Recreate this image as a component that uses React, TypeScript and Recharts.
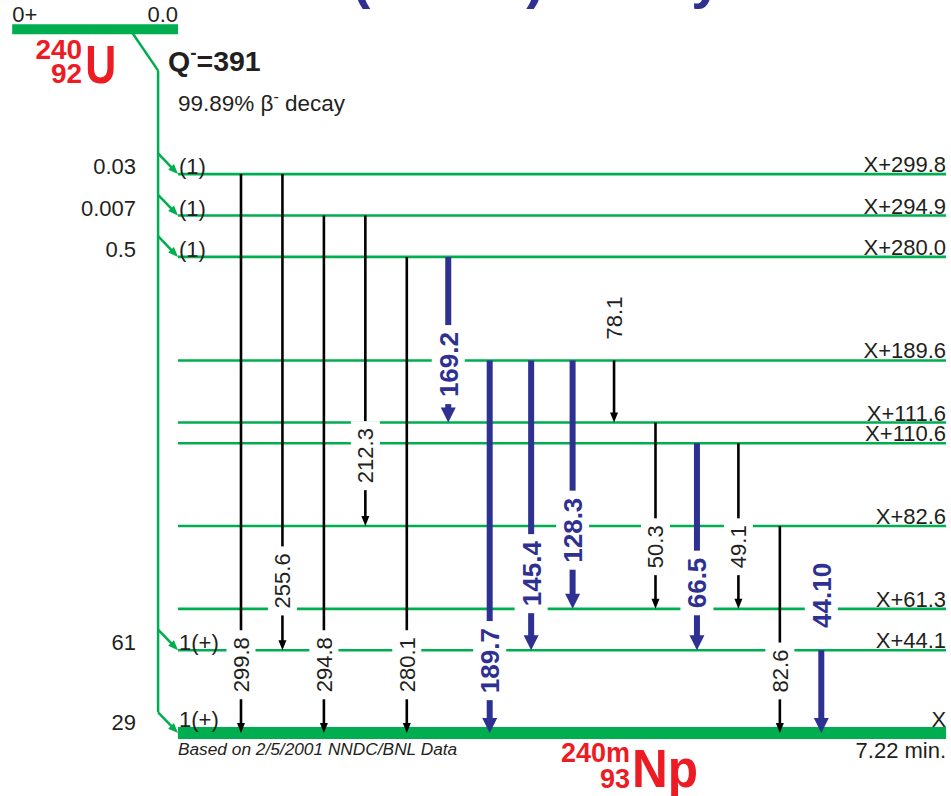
import { ComposedChart, XAxis, YAxis, ReferenceLine } from "recharts";

// levels of 240mNp (schematic slot = drawing height, not energy)
const levelNames = ["X", "X+44.1", "X+61.3", "X+82.6", "X+110.6", "X+111.6", "X+189.6", "X+280.0", "X+294.9", "X+299.8"];
const levelEnergies = [0, 44.1, 61.3, 82.6, 110.6, 111.6, 189.6, 280.0, 294.9, 299.8];
const levelSlots = [0, 4, 6, 10, 14, 15, 18, 23, 25, 27];
const levelSpins = ["1(+)", "1(+)", "", "", "", "", "", "(1)", "(1)", "(1)"];
const betaFeeding = ["29", "61", "", "", "", "", "", "0.5", "0.007", "0.03"];

// gamma transitions
const gammaLabels = ["299.8", "255.6", "294.8", "212.3", "280.1", "169.2", "189.7", "145.4", "128.3", "78.1", "50.3", "66.5", "49.1", "82.6", "44.10"];
const gammaFrom = [299.8, 299.8, 294.9, 294.9, 280.0, 280.0, 189.6, 189.6, 189.6, 189.6, 111.6, 110.6, 110.6, 82.6, 44.1];
const gammaTo = [0, 44.1, 0, 82.6, 0, 111.6, 0, 44.1, 61.3, 111.6, 61.3, 44.1, 61.3, 0, 0];
const gammaColumn = [0, 1, 2, 3, 4, 5, 6, 7, 8, 9, 10, 11, 12, 13, 14];
const gammaLabelSlot = [3.3, 7.35, 3.3, 13.4, 3.3, 17.8, 3.5, 7.7, 9.8, 20.05, 9.0, 7.25, 9.0, 3.0, 6.65];
const gammaStrong = [false, false, false, false, false, true, true, true, true, false, false, true, false, false, true];

// parent 240U
const parentSpin = "0+";
const parentEnergy = "0.0";
const qValue = "391";
const branching = "99.89%";
const halfLife = "7.22 min.";

const X_DOMAIN = [-5.814, 17.129];
const Y_DOMAIN = [-3.04, 35.41];
const LEVEL_START = -1.52;
const LEVEL_END = 17.01;
const PARENT_SLOT = 34;
const PARENT_START = -5.52;
const BETA_X = -2;
const BETA_TOP = 32;
const BETA_KNEE = -2.68;

const GREEN = "#00ad4f";
const BLUE = "#2e3192";
const RED = "#ed1c24";
const INK = "#231f20";
const FONT = "'Liberation Sans', Arial, Helvetica, sans-serif";

const slotOf = (e: number) => levelSlots[levelEnergies.indexOf(e)];

const textLen = (s: string, size: number) =>
    s.split("").reduce((a, ch) => a + (ch === "." ? 0.278 : 0.556), 0) * size;

function LevelShape(p: any, i: number) {
    const { x1, y1, x2 } = p;
    const ground = i === 0;
    return (
        <g fontFamily={FONT} fill={INK} fontSize={22}>
            <line x1={x1} y1={y1} x2={x2} y2={y1} stroke={GREEN} strokeWidth={ground ? 12 : 2.6} />
            <text x={x2} y={y1 - (ground ? 6 : 2)} textAnchor="end">{levelNames[i]}</text>
            {levelSpins[i] && <text x={x1 + 1} y={ground ? y1 - 6 : y1}>{levelSpins[i]}</text>}
            {betaFeeding[i] && <text x={x1 - 42} y={ground ? y1 - 3 : y1} textAnchor="end">{betaFeeding[i]}</text>}
            {ground && (
                <>
                    <text x={x1} y={y1 + 22} fontSize={17.3} fontStyle="italic">Based on 2/5/2001 NNDC/BNL Data</text>
                    <text x={x2} y={y1 + 25} textAnchor="end">{halfLife}</text>
                    <text x={x1 + 452} y={y1 + 29} textAnchor="end" fill={RED} fontWeight="bold" fontSize={27}>240m</text>
                    <text x={x1 + 452} y={y1 + 55} textAnchor="end" fill={RED} fontWeight="bold" fontSize={27}>93</text>
                    <text x={x1 + 454} y={y1 + 54} fill={RED} fontWeight="bold" fontSize={54} textLength={66} lengthAdjust="spacingAndGlyphs">Np</text>
                </>
            )}
        </g>
    );
}

function ParentShape(p: any) {
    const { x1, y1, x2 } = p;
    return (
        <g fontFamily={FONT} fill={INK} fontSize={22}>
            <line x1={x1} y1={y1} x2={x2} y2={y1} stroke={GREEN} strokeWidth={10} />
            <text x={x1} y={y1 - 7}>{parentSpin}</text>
            <text x={x2} y={y1 - 7} textAnchor="end">{parentEnergy}</text>
            <text x={x1 + 70} y={y1 + 30} textAnchor="end" fill={RED} fontWeight="bold" fontSize={28}>240</text>
            <text x={x1 + 70} y={y1 + 54} textAnchor="end" fill={RED} fontWeight="bold" fontSize={28}>92</text>
            <text x={x1 + 73} y={y1 + 54} fill={RED} fontWeight="bold" fontSize={54} textLength={31} lengthAdjust="spacingAndGlyphs">U</text>
            <text x={x2 - 10} y={y1 + 42} fontWeight="bold" fontSize={28.5}>
                Q<tspan dy={-12} fontSize={19}>-</tspan><tspan dy={12}>={qValue}</tspan>
            </text>
            <text x={x2} y={y1 + 82} fontSize={22.5}>
                {branching} β<tspan dy={-9} fontSize={16}>-</tspan><tspan dy={9}> decay</tspan>
            </text>
        </g>
    );
}

function Arrowhead({ x, y, angle, w, h, fill }: any) {
    // tip at (x,y), pointing along angle (radians)
    const ux = Math.cos(angle), uy = Math.sin(angle);
    const bx = x - ux * h, by = y - uy * h;
    const px = -uy * (w / 2), py = ux * (w / 2);
    return <polygon points={`${x},${y} ${bx + px},${by + py} ${bx - px},${by - py}`} fill={fill} />;
}

function FeedShape(p: any) {
    const { x1, y1, x2, y2 } = p;
    const a = Math.atan2(y2 - y1, x2 - x1);
    return (
        <g>
            <line x1={x1} y1={y1} x2={x2 - Math.cos(a) * 6} y2={y2 - Math.sin(a) * 6} stroke={GREEN} strokeWidth={2.5} />
            <Arrowhead x={x2} y={y2} angle={a} w={8} h={10} fill={GREEN} />
        </g>
    );
}

function GammaShape(p: any, i: number) {
    const { x1, y1, y2 } = p;
    const strong = gammaStrong[i];
    const color = strong ? BLUE : "#000";
    const from = slotOf(gammaFrom[i]);
    const to = slotOf(gammaTo[i]);
    const ly = y1 + ((y2 - y1) * (from - gammaLabelSlot[i])) / (from - to);
    const size = strong ? 26 : 22;
    const len = textLen(gammaLabels[i], size);
    const headH = strong ? 15 : 10;
    const headW = strong ? 15 : 8;
    const boxW = strong ? 33 : 29;
    return (
        <g>
            <line x1={x1} y1={y1} x2={x1} y2={y2 - headH + 1} stroke={color} strokeWidth={strong ? 6 : 2.6} />
            <Arrowhead x={x1} y={y2} angle={Math.PI / 2} w={headW} h={headH} fill={color} />
            <rect x={x1 - boxW / 2} y={ly - len / 2 - 7} width={boxW} height={len + 14} fill="#fff" />
            <text
                x={x1}
                y={ly}
                dy="0.36em"
                transform={`rotate(-90 ${x1} ${ly})`}
                textAnchor="middle"
                fontFamily={FONT}
                fontSize={size}
                fontWeight={strong ? "bold" : "normal"}
                fill={strong ? BLUE : INK}
            >
                {gammaLabels[i]}
            </text>
        </g>
    );
}

export default function App() {
    return (
        <div style={{ position: "absolute", left: 0, top: 0, width: 951, height: 796, background: "#fff" }}>
            <ComposedChart width={951} height={796} margin={{ top: 0, right: 0, bottom: 0, left: 0 }}>
                <XAxis type="number" dataKey="x" domain={X_DOMAIN} hide allowDataOverflow />
                <YAxis type="number" dataKey="y" domain={Y_DOMAIN} hide allowDataOverflow />

                <text x={352} y={-3} fontFamily={FONT} fontWeight="bold" fontSize={55} fill={BLUE}>
                    (14.1 h) Decay
                </text>

                <ReferenceLine
                    ifOverflow="visible"
                    segment={[{ x: PARENT_START, y: PARENT_SLOT }, { x: LEVEL_START, y: PARENT_SLOT }]}
                    shape={(p: any) => ParentShape(p)}
                />

                {/* beta feeding trunk */}
                <ReferenceLine
                    ifOverflow="visible"
                    segment={[{ x: BETA_KNEE, y: PARENT_SLOT }, { x: BETA_X, y: BETA_TOP }]}
                    stroke={GREEN}
                    strokeWidth={2.5}
                />
                <ReferenceLine
                    ifOverflow="visible"
                    segment={[{ x: BETA_X, y: BETA_TOP }, { x: BETA_X, y: 1 }]}
                    stroke={GREEN}
                    strokeWidth={2.5}
                />

                {levelSlots.map((s, i) => (
                    <ReferenceLine
                        key={`lv${i}`}
                        ifOverflow="visible"
                        segment={[{ x: LEVEL_START, y: s }, { x: LEVEL_END, y: s }]}
                        shape={(p: any) => LevelShape(p, i)}
                    />
                ))}

                {levelSlots.map((s, i) =>
                    betaFeeding[i] ? (
                        <ReferenceLine
                            key={`fd${i}`}
                            ifOverflow="visible"
                            segment={[{ x: BETA_X, y: s + 1 }, { x: LEVEL_START, y: s }]}
                            shape={(p: any) => FeedShape(p)}
                        />
                    ) : null
                )}

                {gammaLabels.map((_, i) => (
                    <ReferenceLine
                        key={`g${i}`}
                        ifOverflow="visible"
                        segment={[
                            { x: gammaColumn[i], y: slotOf(gammaFrom[i]) },
                            { x: gammaColumn[i], y: slotOf(gammaTo[i]) },
                        ]}
                        shape={(p: any) => GammaShape(p, i)}
                    />
                ))}
            </ComposedChart>
        </div>
    );
}
